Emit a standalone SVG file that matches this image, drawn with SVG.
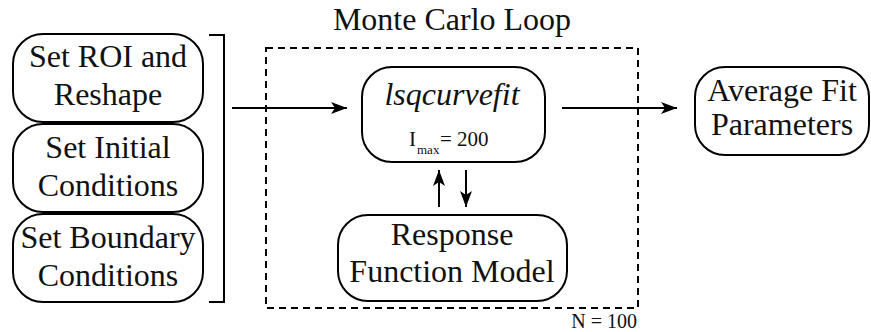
<svg xmlns="http://www.w3.org/2000/svg" width="871" height="332" viewBox="0 0 871 332">
<defs>
<style>
.box{fill:#fff;stroke:#000;stroke-width:2}
.t{font-size:32px;fill:#111;text-anchor:middle}
.s{fill:#111}
.ln{stroke:#000;stroke-width:2;fill:none}
</style>
<marker id="ah" viewBox="0 0 16 12" refX="16" refY="6" markerWidth="16" markerHeight="12" markerUnits="userSpaceOnUse" orient="auto">
<path d="M0,0 L16,6 L0,12 L4,6 Z" fill="#000"/>
</marker>
</defs>
<rect width="871" height="332" fill="#fff"/>

<g font-family="Liberation Serif, Tinos, DejaVu Serif, serif">
<g id="loop">
<rect x="266" y="48" width="372" height="260" fill="none" stroke="#000" stroke-width="2" stroke-dasharray="7 5"/>
<text class="t" x="452" y="30">Monte Carlo Loop</text>
<text class="s" x="637" y="328" font-size="20" text-anchor="end">N = 100</text>
</g>

<g id="roi">
<rect class="box" x="13" y="34" width="190" height="88" rx="30"/>
<text class="t" x="108" y="67">Set ROI and</text>
<text class="t" x="108" y="105">Reshape</text>
</g>
<g id="initial">
<rect class="box" x="13" y="124" width="190" height="88" rx="30"/>
<text class="t" x="108" y="158">Set Initial</text>
<text class="t" x="108" y="196">Conditions</text>
</g>
<g id="boundary">
<rect class="box" x="13" y="214" width="190" height="88" rx="30"/>
<text class="t" x="108" y="248">Set Boundary</text>
<text class="t" x="108" y="286">Conditions</text>
</g>

<g id="lsq">
<rect class="box" x="362" y="67" width="183" height="95" rx="30"/>
<text class="t" x="452" y="105" font-style="italic">lsqcurvefit</text>
<text class="s" font-size="21"><tspan x="409" y="146">I</tspan><tspan x="417" y="154" font-size="13">max</tspan><tspan x="440" y="146">= 200</tspan></text>
</g>

<g id="response">
<rect class="box" x="338" y="215" width="229" height="86" rx="30"/>
<text class="t" x="452" y="245">Response</text>
<text class="t" x="452" y="282">Function Model</text>
</g>

<g id="average">
<rect class="box" x="695" y="67" width="174" height="88" rx="30"/>
<text class="t" x="782" y="101">Average Fit</text>
<text class="t" x="782" y="135">Parameters</text>
</g>
</g>

<g id="connectors">
<path class="ln" d="M209,35 H224 V302 H209"/>
<line class="ln" x1="232" y1="108" x2="347" y2="108" marker-end="url(#ah)"/>
<line class="ln" x1="562" y1="108" x2="677" y2="108" marker-end="url(#ah)"/>
<line class="ln" x1="439" y1="207" x2="439" y2="170" marker-end="url(#ah)"/>
<line class="ln" x1="466" y1="170" x2="466" y2="207" marker-end="url(#ah)"/>
</g>
</svg>
